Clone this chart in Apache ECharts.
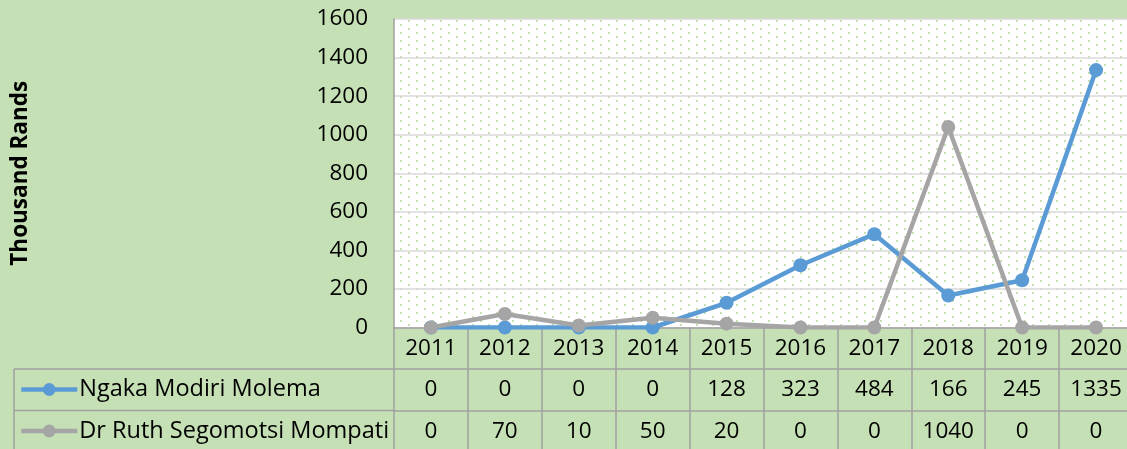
<!DOCTYPE html>
<html>
<head>
<meta charset="utf-8">
<script src="https://cdn.jsdelivr.net/npm/echarts@6/dist/echarts.min.js"></script>
<style>
html,body{margin:0;padding:0;background:#c5e0b4;}
#c{width:1127px;height:449px;}
</style>
</head>
<body>
<div id="c"></div>
<script>
const years = ['2011','2012','2013','2014','2015','2016','2017','2018','2019','2020'];
const ngakaName = 'Ngaka Modiri Molema';
const ruthName = 'Dr Ruth Segomotsi Mompati';
const ngaka = [0, 0, 0, 0, 128, 323, 484, 166, 245, 1335];
const ruth = [0, 70, 10, 50, 20, 0, 0, 1040, 0, 0];
const yTicks = [0, 200, 400, 600, 800, 1000, 1200, 1400, 1600];

const FONT = 'Open Sans';
const BORDER = '#a0a0a0';
const ROW = 41.5;

// dotted plot-area pattern
const pc = document.createElement('canvas');
pc.width = 16; pc.height = 8;
const pctx = pc.getContext('2d');
pctx.fillStyle = '#ffffff';
pctx.fillRect(0, 0, 16, 8);
pctx.fillStyle = '#c5e0b4';
pctx.fillRect(0, 0, 2, 2);
pctx.fillRect(8, 4, 2, 2);

const chart = echarts.init(document.getElementById('c'), null, {renderer: 'canvas'});

function tableAxis(idx, formatter) {
  return {
    type: 'category',
    data: years,
    position: 'bottom',
    offset: idx * ROW,
    boundaryGap: true,
    axisLine: {show: true, lineStyle: {color: BORDER, width: 1.5}},
    axisTick: {show: true, alignWithLabel: false, length: ROW, lineStyle: {color: BORDER, width: 1.5}},
    axisLabel: {
      show: true, interval: 0, margin: 0, lineHeight: ROW,
      color: '#000', fontFamily: FONT, fontSize: 22.5,
      formatter: formatter
    },
    splitLine: {show: false}
  };
}

const legendCommon = {
  orient: 'vertical', left: 14,
  itemWidth: 56, itemHeight: 16,
  lineStyle: {width: 4.5},
  textStyle: {color: '#000', fontFamily: FONT, fontSize: 23.5, padding: [0, 0, 0, -3]}
};

const option = {
  backgroundColor: '#c5e0b4',
  animation: false,
  grid: {
    left: 394, top: 19, right: -6, bottom: 121.5,
    outerBoundsMode: 'none',
    containLabel: false,
    show: true,
    backgroundColor: {image: pc, repeat: 'repeat'},
    borderWidth: 0
  },
  legend: [
    Object.assign({}, legendCommon, {data: [ngakaName], top: 372.5}),
    Object.assign({}, legendCommon, {data: [ruthName], top: 414})
  ],
  xAxis: [
    tableAxis(0, function (v, i) { return years[i]; }),
    tableAxis(1, function (v, i) { return String(ngaka[i]); }),
    tableAxis(2, function (v, i) { return String(ruth[i]); })
  ],
  yAxis: {
    type: 'value',
    min: yTicks[0], max: yTicks[yTicks.length - 1], interval: 200,
    name: 'Thousand Rands',
    nameLocation: 'middle',
    nameRotate: 90,
    nameGap: 362,
    nameTextStyle: {color: '#000', fontFamily: FONT, fontSize: 22.5, fontWeight: 'bold'},
    axisLine: {show: true, lineStyle: {color: BORDER, width: 1.5}},
    axisTick: {show: false},
    axisLabel: {color: '#000', fontFamily: FONT, fontSize: 22.5, margin: 26,
      formatter: function (v) { return String(v); }},
    splitLine: {show: true, lineStyle: {color: '#d9d9d9', width: 1.5}}
  },
  series: [
    {
      name: ngakaName, type: 'line', xAxisIndex: 0, data: ngaka,
      color: '#5b9bd5',
      lineStyle: {width: 4.5, color: '#5b9bd5'},
      itemStyle: {color: '#5b9bd5'},
      symbol: 'circle', symbolSize: 14, showAllSymbol: true
    },
    {
      name: ruthName, type: 'line', xAxisIndex: 0, data: ruth,
      color: '#a5a5a5',
      lineStyle: {width: 4.5, color: '#a5a5a5'},
      itemStyle: {color: '#a5a5a5'},
      symbol: 'circle', symbolSize: 14, showAllSymbol: true
    }
  ],
  graphic: [
    {type: 'line', shape: {x1: 14, y1: 327.5 + ROW, x2: 394, y2: 327.5 + ROW}, style: {stroke: BORDER, lineWidth: 1.5}, silent: true},
    {type: 'line', shape: {x1: 14, y1: 327.5 + 2 * ROW, x2: 394, y2: 327.5 + 2 * ROW}, style: {stroke: BORDER, lineWidth: 1.5}, silent: true},
    {type: 'line', shape: {x1: 14, y1: 327.5 + ROW, x2: 14, y2: 449}, style: {stroke: BORDER, lineWidth: 1.5}, silent: true}
  ]
};
chart.setOption(option);
</script>
</body>
</html>
